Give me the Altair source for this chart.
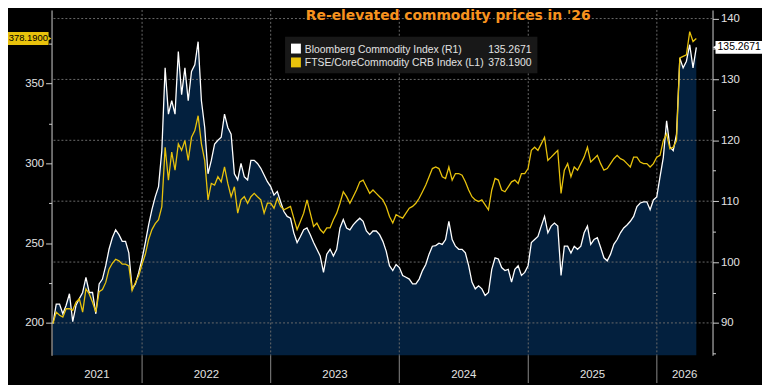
import altair as alt
import pandas as pd

# ---------------- data ----------------
bcom_name = "Bloomberg Commodity Index (R1)"
crb_name = "FTSE/CoreCommodity CRB Index (L1)"
title_text = "Re-elevated commodity prices in '26"

start_date, end_date = "2021-04-23", "2026-04-23"   # sampled about every 9 days
x_start, x_end = "2021-04-19", "2026-06-08"         # visible time span

bcom = [
    89.9, 93.1, 93.1, 91.5, 92.9, 94.8, 90.2, 92.9, 94.0, 95.0,
    97.5, 95.0, 95.0, 91.5, 96.4, 97.2, 99.4, 102.1, 104.0, 105.3,
    104.5, 103.4, 103.4, 101.5, 95.6, 96.4, 98.3, 100.5, 103.2, 106.1,
    108.6, 110.7, 112.4, 118.3, 131.9, 124.3, 126.5, 124.3, 134.6, 127.5,
    131.9, 126.5, 131.3, 132.4, 136.2, 126.5, 122.1, 114.5, 116.7, 119.4,
    120.0, 120.5, 124.3, 122.1, 121.0, 114.5, 113.5, 116.2, 114.0, 113.5,
    116.7, 116.7, 116.2, 115.4, 114.3, 113.2, 112.4,
    111.0, 111.6, 109.9, 108.3, 107.5, 107.2, 104.8, 103.2, 104.2, 105.3,
    105.6, 104.5, 103.2, 102.1, 101.0, 98.3, 101.3, 102.1, 101.0, 102.1,
    105.6, 107.0, 105.6, 105.3, 106.1, 106.7, 107.2, 106.7, 105.1, 104.5,
    105.1, 105.1, 104.5, 103.4, 101.8, 99.4, 98.6, 99.6, 99.1, 97.8,
    97.5, 97.2, 96.4, 96.4, 97.2, 98.6, 99.6, 101.3, 102.6, 102.7,
    103.1, 102.9, 103.7, 106.7, 103.7, 102.6, 102.1, 102.1, 101.5, 99.4,
    96.7, 95.6, 96.1, 95.6, 94.5, 95.0,
    98.8, 100.7, 100.5, 99.1, 98.6, 98.8, 96.7, 98.8, 99.4, 97.8,
    98.3, 99.4, 103.2, 103.7, 104.2, 105.9, 107.5, 104.8, 105.9, 106.4,
    105.9, 97.8, 102.6, 102.6, 101.5, 102.6, 102.1, 102.6, 104.8, 105.9,
    102.9, 103.7, 104.0, 102.4, 100.7, 100.2, 101.3, 102.9, 103.7, 104.8,
    105.6, 106.1, 106.7, 107.5, 109.1, 109.7, 109.9, 109.9, 108.6, 110.2,
    110.7, 114.0, 117.2, 123.2, 118.9, 118.3, 121.0, 133.5, 131.9, 133.0,
    135.7, 131.9, 135.2671,
]

crb = [
    199.6, 206.8, 204.8, 203.7, 208.9, 208.9, 207.9, 213.0, 215.1, 206.8,
    221.3, 218.2, 213.0, 206.8, 219.6, 220.9, 225.4, 233.7, 237.4, 239.9,
    238.9, 236.8, 236.8, 235.8, 220.3, 225.4, 229.6, 236.8, 243.0, 252.3,
    258.5, 262.2, 264.7, 272.9, 310.1, 289.5, 307.0, 295.7, 312.2, 308.1,
    314.3, 301.9, 316.3, 320.5, 329.8, 312.2, 301.9, 277.1, 287.4, 286.4,
    291.6, 288.4, 297.7, 287.4, 279.1, 285.3, 268.8, 277.1, 279.1, 275.0,
    279.1, 281.2, 279.1, 277.1, 268.8, 275.0, 275.0,
    271.9, 278.1, 273.0, 270.9, 271.9, 273.0, 265.7, 258.5, 263.6, 268.8,
    277.1, 268.8, 260.5, 262.6, 258.5, 256.4, 259.5, 259.5, 264.7, 268.8,
    275.0, 282.2, 279.1, 275.0, 279.1, 283.3, 288.4, 289.5, 285.3, 281.2,
    283.3, 281.2, 279.1, 277.1, 273.0, 266.7, 262.6, 267.8, 266.7, 265.7,
    268.8, 271.9, 273.0, 275.0, 278.1, 282.2, 286.4, 291.6, 296.7, 297.7,
    296.7, 291.6, 290.5, 297.7, 289.5, 293.6, 293.6, 292.6, 288.4, 283.3,
    279.1, 277.1, 276.0, 277.1, 274.0, 270.9,
    283.3, 290.5, 289.5, 283.3, 282.2, 285.3, 288.4, 289.5, 287.4, 293.6,
    293.6, 296.7, 308.1, 310.1, 308.1, 312.2, 316.3, 301.9, 303.9, 306.0,
    308.1, 281.2, 295.7, 299.8, 291.6, 297.7, 295.7, 299.8, 303.9, 310.1,
    300.8, 302.9, 305.0, 299.8, 295.7, 296.7, 299.8, 302.9, 305.0, 302.9,
    301.9, 299.8, 297.7, 303.9, 303.9, 300.8, 299.8, 299.8, 297.7, 299.8,
    303.9, 305.0, 314.3, 318.4, 309.1, 310.1, 314.3, 366.0, 367.0, 368.0,
    382.5, 376.3, 378.19,
]

year_starts = ["2022-01-01", "2023-01-01", "2024-01-01", "2025-01-01", "2026-01-01"]
year_labels = ["2021", "2022", "2023", "2024", "2025", "2026"]
left_ticks = [200, 225, 250, 275, 300, 325, 350, 375]
right_ticks = [85, 90, 95, 100, 105, 110, 115, 120, 125, 130, 135, 140]
right_grid = [90, 100, 110, 120, 130, 140]
left_domain = [179.73, 396.06]
right_domain = [84.68, 141.41]

# ---------------- styling ----------------
W, H = 668, 349
FONT = "Liberation Sans"
NAVY = "#03203e"
YELLOW = "#e8c20c"
ORANGE = "#f7931e"
GRID = "#6a6a6a"
AXIS = "#cfcfcf"
LABEL = "#e2e2e2"

df = pd.DataFrame({
    "date": pd.date_range(start_date, end_date, periods=len(bcom)),
    "bcom": bcom,
    "crb": crb,
})


def dt(s):
    t = pd.Timestamp(s)
    return alt.DateTime(year=t.year, month=t.month, date=t.day)


xscale = alt.Scale(domain=[dt(x_start), dt(x_end)])
yR = alt.Scale(domain=right_domain, nice=False, zero=False)
yL = alt.Scale(domain=left_domain, nice=False, zero=False)

quarters = pd.date_range("2021-07-01", "2026-04-01", freq="QS")
x_axis = alt.Axis(values=[dt(q) for q in quarters], labels=False, ticks=True,
                  tickSize=4, tickColor="#8c8c8c", domainColor="#a0a0a0",
                  grid=False, title=None)

right_axis = alt.Axis(
    orient="right", values=right_ticks, format="d",
    labelExpr="datum.value % 10 === 0 ? datum.label : ''",
    tickSize={"condition": {"test": "datum.value % 10 === 0", "value": 6}, "value": 3},
    tickColor=AXIS, domainColor=AXIS, labelColor=LABEL, labelFont=FONT,
    labelFontSize=11.5, labelPadding=2, grid=False, title=None,
)
left_axis = alt.Axis(
    orient="left", values=left_ticks, format="d",
    labelExpr="datum.value % 50 === 0 ? datum.label : ''",
    tickSize={"condition": {"test": "datum.value % 50 === 0", "value": 6}, "value": 3},
    tickColor=AXIS, domainColor=AXIS, labelColor=LABEL, labelFont=FONT,
    labelFontSize=11.5, labelPadding=2, grid=False, title=None,
)

X = alt.X("date:T", scale=xscale, axis=None)

area = alt.Chart(df).mark_area(color=NAVY, clip=True).encode(
    x=alt.X("date:T", scale=xscale, axis=x_axis),
    y=alt.Y("bcom:Q", scale=yR, axis=right_axis),
    y2=alt.value(H),
)

hgrid = alt.Chart(pd.DataFrame({"v": right_grid})).mark_rule(
    color=GRID, strokeDash=[2, 2], strokeWidth=1
).encode(y=alt.Y("v:Q", scale=yR, axis=None))

ys_df = pd.DataFrame({"d": pd.to_datetime(year_starts)})
vgrid = alt.Chart(ys_df).mark_rule(
    color=GRID, strokeDash=[2, 2], strokeWidth=1
).encode(x=alt.X("d:T", scale=xscale, axis=None))

separators = alt.Chart(ys_df).mark_rule(color="#8a8a8a", strokeWidth=1).encode(
    x=alt.X("d:T", scale=xscale, axis=None),
    y=alt.value(H), y2=alt.value(H + 28),
)

white_line = alt.Chart(df).mark_line(color="#ffffff", strokeWidth=1.3).encode(
    x=X, y=alt.Y("bcom:Q", scale=yR, axis=None)
)
yellow_line = alt.Chart(df).mark_line(color=YELLOW, strokeWidth=1.3).encode(
    x=X, y=alt.Y("crb:Q", scale=yL, axis=left_axis)
)

last = pd.DataFrame({
    "bcom": [bcom[-1]], "crb": [crb[-1]],
    "bl": [f"{bcom[-1]:.4f}"], "cl": [f"{crb[-1]:.4f}"],
})

tag_l_box = alt.Chart(last).mark_tick(orient="horizontal", color=YELLOW, size=41,
                                      thickness=13, opacity=1).encode(
    x=alt.value(-23.5), y=alt.Y("crb:Q", scale=yL, axis=None))
tag_l_arrow = alt.Chart(last).mark_point(shape="triangle-right", filled=True, size=30,
                                         color=YELLOW, opacity=1).encode(
    x=alt.value(-2.5), y=alt.Y("crb:Q", scale=yL, axis=None))
tag_l_text = alt.Chart(last).mark_text(color="#000000", font=FONT, fontSize=9.5,
                                       baseline="middle").encode(
    x=alt.value(-23.5), y=alt.Y("crb:Q", scale=yL, axis=None), text="cl:N")

tag_r_box = alt.Chart(last).mark_tick(orient="horizontal", color="#ffffff", size=48,
                                      thickness=13, opacity=1).encode(
    x=alt.value(695), y=alt.Y("bcom:Q", scale=yR, axis=None))
tag_r_arrow = alt.Chart(last).mark_point(shape="triangle-left", filled=True, size=40,
                                         color="#ffffff", opacity=1).encode(
    x=alt.value(671), y=alt.Y("bcom:Q", scale=yR, axis=None))
tag_r_text = alt.Chart(last).mark_text(color="#000000", font=FONT, fontSize=10.5,
                                       baseline="middle").encode(
    x=alt.value(695), y=alt.Y("bcom:Q", scale=yR, axis=None), text="bl:N")

one = pd.DataFrame({"k": [0]})
legend_box = alt.Chart(one).mark_rect(color="#181818").encode(
    x=alt.value(236), x2=alt.value(491), y=alt.value(27), y2=alt.value(64))
sq_w = alt.Chart(one).mark_rect(color="#ffffff").encode(
    x=alt.value(242), x2=alt.value(252), y=alt.value(34), y2=alt.value(44))
sq_y = alt.Chart(one).mark_rect(color=YELLOW).encode(
    x=alt.value(242), x2=alt.value(252), y=alt.value(48), y2=alt.value(58))

legend_font = dict(font=FONT, fontSize=10.5, color=LABEL, baseline="alphabetic")
leg_t1 = alt.Chart(one).mark_text(text=bcom_name, align="left", **legend_font).encode(
    x=alt.value(256), y=alt.value(43.5))
leg_t2 = alt.Chart(one).mark_text(text=crb_name, align="left", **legend_font).encode(
    x=alt.value(256), y=alt.value(57))
leg_v1 = alt.Chart(last).mark_text(align="right", **legend_font).encode(
    x=alt.value(485), y=alt.value(43.5), text="bl:N")
leg_v2 = alt.Chart(last).mark_text(align="right", **legend_font).encode(
    x=alt.value(485), y=alt.value(57), text="cl:N")

title = alt.Chart(one).mark_text(
    text=title_text, font="DejaVu Sans", fontWeight="bold", fontSize=14,
    color=ORANGE, align="left", baseline="alphabetic",
).encode(x=alt.value(257), y=alt.value(10.5))

bounds = [pd.Timestamp(x_start)] + list(pd.to_datetime(year_starts)) + [pd.Timestamp(x_end)]
mids = [a + (b - a) / 2 for a, b in zip(bounds[:-1], bounds[1:])]
years_df = pd.DataFrame({"mid": mids, "label": year_labels})
year_text = alt.Chart(years_df).mark_text(
    font=FONT, fontSize=11.5, color=LABEL, baseline="middle"
).encode(x=alt.X("mid:T", scale=xscale, axis=None), y=alt.value(H + 20), text="label:N")

chart = alt.layer(
    area, hgrid, vgrid, white_line, yellow_line, separators,
    tag_l_box, tag_l_arrow, tag_l_text, tag_r_box, tag_r_arrow, tag_r_text,
    legend_box, sq_w, sq_y, leg_t1, leg_t2, leg_v1, leg_v2, title, year_text,
).resolve_scale(y="independent").properties(
    width=W, height=H,
    autosize=alt.AutoSizeParams(type="none"),
    padding={"left": 44, "top": 0, "right": 50, "bottom": 28},
    background="#000000",
).configure_view(stroke=None)

chart.save("out.html", embed_options={"renderer": "svg", "actions": False})
